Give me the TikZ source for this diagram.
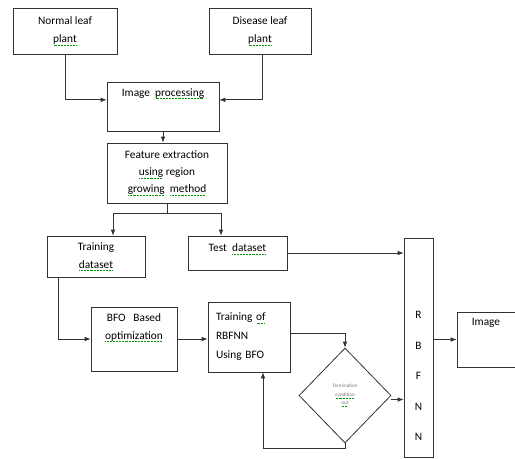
\documentclass[tikz,border=0pt]{standalone}
\usepackage{fontspec}
\setmainfont{Carlito}
\usetikzlibrary{shapes.geometric, positioning, arrows.meta}
% green spell-check underline as in the original
\newcommand\spellmark[1]{\leavevmode\setbox0\hbox{#1}\rlap{\textcolor{green!60!black}{\raisebox{-1.8pt}{\hbox to \wd0{\leaders\hbox to 1.1pt{\hss\rule{0.6pt}{0.45pt}\hss}\hfill}}}}\box0\relax}

\begin{document}
\begin{tikzpicture}[x=0.75pt, y=-0.75pt,
	>={Latex[length=4.5pt,width=3.5pt]},
	every node/.style={font=\fontsize{8.5}{13.5}\selectfont},
	box/.style={draw=black!80, line width=0.6pt, inner sep=0pt, align=center},
	lbl/.style={inner sep=0pt, align=center},
	link/.style={->, draw=black!80, line width=0.6pt},
	line/.style={draw=black!80, line width=0.6pt}]
	\useasboundingbox (0,0) rectangle (515,458);
	% Input boxes
	\node[box, minimum width=78pt, minimum height=34.5pt] (normal) at (65,31) {Normal leaf\\ \spellmark{plant}};
	\node[box, minimum width=76.5pt, minimum height=34.5pt] (disease) at (260,31) {Disease leaf\\ \spellmark{plant}};
	\node[box, minimum width=84pt, minimum height=36.75pt] (imgp) at (163,106.5) {};
	\node[lbl, below=5pt of imgp.north] (imgptxt) {Image~ \spellmark{processing}};
	\node[box, minimum width=90pt, minimum height=45pt, font=\fontsize{8.5}{12.8}\selectfont] (feat) at (167,173) {Feature extraction\\ \spellmark{using} region\\ \spellmark{growing}~ \spellmark{method}};
	% Datasets
	\node[box, minimum width=73.5pt, minimum height=30.75pt] (train) at (96,256.5) {Training\\ \spellmark{dataset}};
	\node[box, minimum width=74.25pt, minimum height=25.5pt] (test) at (237.5,253) {};
	\node[lbl, below=6pt of test.north] (testtxt) {Test~ \spellmark{dataset}};
	% Optimisation and training
	\node[box, minimum width=64.5pt, minimum height=48pt] (bfo) at (134,339) {};
	\node[lbl, below=5pt of bfo.north] (bfotxt) {BFO~~ Based\\ \spellmark{optimization}};
	\node[box, minimum width=61.5pt, minimum height=52.5pt, text width=49.5pt, inner xsep=6pt, align=left,
		font=\fontsize{8.5}{14.3}\selectfont] (trbf) at (249,337) {Training \spellmark{of}\\ RBFNN\\ Using BFO};
	\node[draw=black!80, line width=0.6pt, diamond, inner sep=0pt, minimum width=69pt, minimum height=71.25pt,
		align=center, text=black!55, font=\fontsize{3.8}{6.4}\selectfont] (cond) at (345,395.5) {Termination\\ \spellmark{condition}\\ \spellmark{out}};
	% Network and output
	\node[box, minimum width=21.75pt, minimum height=164.25pt] (rbfnn) at (418.5,347.5) {};
	\node[lbl, font=\fontsize{8.5}{22.9}\selectfont] (rbfnntxt) at ([yshift=-21.4pt]rbfnn.center) {R\\B\\F\\N\\N};
	\node[box, minimum width=43.5pt, minimum height=41.25pt] (image) at (486,339.5) {};
	\node[lbl, below=5pt of image.north] (imagetxt) {Image};
	% Connectors
	\draw[link] (normal.south) |- ([yshift=5pt]imgp.west);
	\draw[link] ([xshift=1.5pt]disease.south) |- ([yshift=5pt]imgp.east);
	\draw[link] (imgp.south) -- (imgp.south |- feat.north);
	\coordinate (splitl) at (113,213);
	\coordinate (splitr) at (221,213);
	\draw[line] (feat.south) -- (feat.south |- splitl);
	\draw[line] (splitl) -- (splitr);
	\draw[link] (splitl) -- (splitl |- train.north);
	\draw[link] (splitr) -- (splitr |- test.north);
	\draw[link] (test.east) -- (test.east -| rbfnn.west);
	\draw[link] (train.south west) ++(12,0) |- (bfo.west);
	\draw[link] (bfo.east) -- (bfo.east -| trbf.west);
	\draw[link] ([yshift=3pt]trbf.east) -| (cond.north);
	\draw[link] ([yshift=-3pt]cond.east) -- ([yshift=-3pt]cond.east -| rbfnn.west);
	\draw[link] (cond.south) -- ++(0,5) -| ([xshift=10.5pt]trbf.south);
	\draw[link] (image.west -| rbfnn.east) -- (image.west);
\end{tikzpicture}
\end{document}
